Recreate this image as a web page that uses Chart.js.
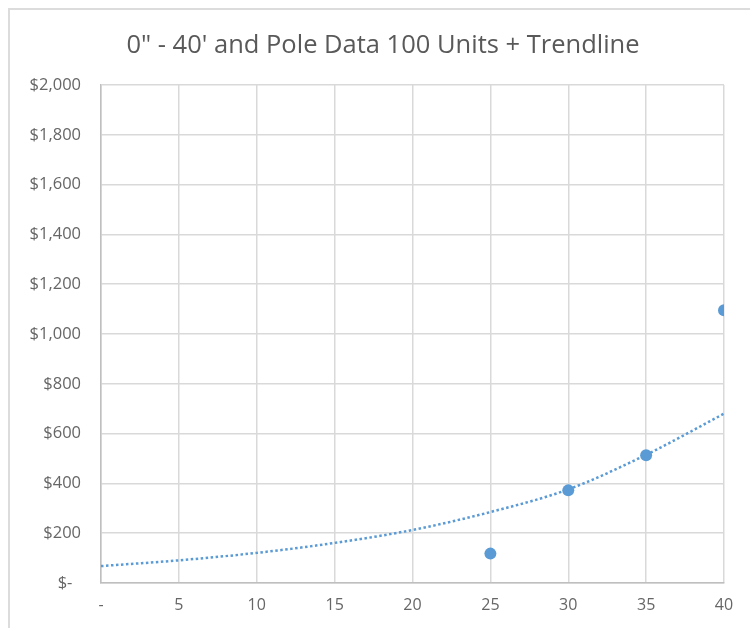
<!DOCTYPE html>
<html>
<head>
<meta charset="utf-8">
<script src="https://cdn.jsdelivr.net/npm/chart.js@4"></script>
<style>
  html, body { margin: 0; padding: 0; background: #fff; }
  #wrap { position: relative; width: 750px; height: 628px; }
  #frame {
    position: absolute; left: 8px; top: 8px; width: 742px; height: 620px;
    border-left: 2px solid #dcdcdc; border-top: 2px solid #dcdcdc;
    box-sizing: border-box;
  }
  #title {
    position: absolute; left: 0; top: 28px; width: 766px;
    text-align: center; font-family: "Open Sans", sans-serif;
    font-size: 25.5px; line-height: 31px; color: #595959;
  }
  canvas { position: absolute; left: 0; top: 0; }
</style>
</head>
<body>
<div id="wrap">
  <div id="frame"></div>
  <canvas id="chart" width="750" height="628"></canvas>
  <div id="title">0" - 40' and Pole Data 100 Units + Trendline</div>
</div>
<script>
  // data
  const poleLength = [25, 30, 35, 40];
  const poleCost = [118, 372, 513, 1095];

  // trendline as read at each gridline
  const trendX = [0, 5, 10, 15, 20, 25, 30, 35, 40];
  const trendY = [68, 91, 121, 161, 213, 285, 376, 515, 680];

  const blue = "#5b9bd5";
  const tickColor = "#666666";

  const pts = poleLength.map((x, i) => ({ x: x, y: poleCost[i] }));
  const trend = trendX.map((x, i) => ({ x: x, y: trendY[i] }));

  new Chart(document.getElementById("chart"), {
    type: "scatter",
    data: {
      datasets: [
        {
          label: "Trendline",
          data: trend,
          showLine: true,
          borderColor: blue,
          borderWidth: 2.5,
          borderDash: [2.5, 2.5],
          cubicInterpolationMode: "monotone",
          pointRadius: 0,
          fill: false,
        },
        {
          label: "Pole Data",
          data: pts,
          backgroundColor: blue,
          borderColor: blue,
          pointRadius: 6,
          pointBorderWidth: 0,
        },
      ],
    },
    options: {
      responsive: false,
      animation: false,
      layout: { padding: { left: 10, right: 26, top: 85, bottom: 0 } },
      plugins: {
        legend: { display: false },
        tooltip: { enabled: false },
        title: { display: false },
      },
      scales: {
        x: {
          type: "linear",
          min: 0,
          max: 40,
          afterFit: (s) => { s.height = 45; },
          ticks: {
            stepSize: 5,
            padding: 13,
            color: tickColor,
            font: { family: "'Open Sans'", size: 16 },
            callback: (v) => (v === 0 ? "-" : v),
          },
          grid: { color: "#d9d9d9", lineWidth: 1.5, drawTicks: false },
          border: { color: "#bfbfbf", width: 1.5 },
        },
        y: {
          min: 0,
          max: 2000,
          afterFit: (s) => { s.width = 91; },
          ticks: {
            stepSize: 200,
            padding: 20,
            color: tickColor,
            font: { family: "'Open Sans'", size: 16.5 },
            // accounting style zero, with trailing room like Excel
            callback: (v) => (v === 0 ? "$-  " : "$" + v.toLocaleString("en-US")),
          },
          grid: { color: "#d9d9d9", lineWidth: 1.5, drawTicks: false },
          border: { color: "#bfbfbf", width: 1.5 },
        },
      },
    },
  });
</script>
</body>
</html>
